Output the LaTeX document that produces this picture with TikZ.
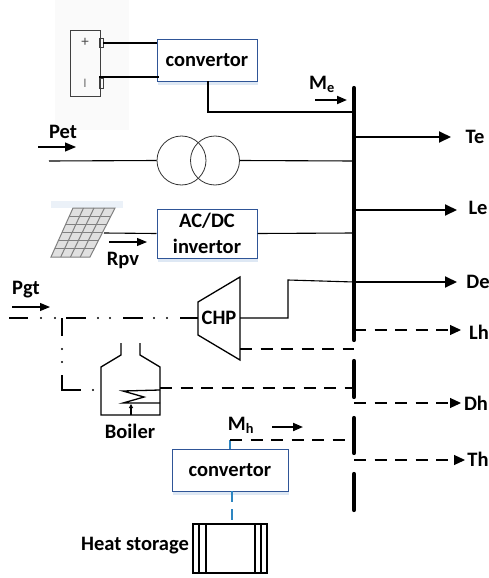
\documentclass[tikz,border=0pt]{standalone}
\usepackage{fontspec}
\setmainfont{Carlito}
\usetikzlibrary{arrows.meta}
\definecolor{boxblue}{HTML}{2F5597}
\definecolor{shadowblue}{HTML}{DEE8F4}
\definecolor{wireblue}{HTML}{2E86C1}
\tikzset{
  x=1pt,y=-1pt,
  wire/.style={draw=black,line width=1.1pt},
  thickwire/.style={draw=black,line width=1.9pt},
  busbar/.style={draw=black,line width=4.2pt,line cap=round},
  heatdash/.style={draw=black,line width=1.1pt,dash pattern=on 12pt off 8.5pt},
  tipbig/.style={-{Triangle[length=12pt,width=11pt]}},
  tipmid/.style={-{Triangle[length=11pt,width=10pt]}},
  boxnode/.style={draw=boxblue,line width=1pt,fill=white,inner sep=0pt,align=center},
  lbl/.style={font=\fontsize{20.5}{22}\selectfont\bfseries,inner sep=0pt},
}
\begin{document}
\begin{tikzpicture}
\useasboundingbox (0,0) rectangle (489,578);
% pale image backgrounds
\fill[black!2] (55,0) rectangle (129,130);
\fill[shadowblue!60] (51,201) rectangle (123,208);
% battery
\node[draw=black!75,line width=.9pt,minimum width=30pt,minimum height=66pt,inner sep=0pt] (bat) at (85,63) {};
\node[font=\fontsize{15}{15}\selectfont,text=black!70,inner sep=0pt] (plus) at (85,42) {+};
\node[font=\fontsize{13}{13}\selectfont,text=black!55,inner sep=0pt] (minus) at (85,83) {I};
\node[draw=black!75,line width=.7pt,minimum width=3.5pt,minimum height=9pt,inner sep=0pt] (tp) at (101.5,43) {};
\node[draw=black!75,line width=.7pt,minimum width=3.5pt,minimum height=10pt,inner sep=0pt] (tm) at (101.5,83) {};
% convertor boxes with shadow
\fill[shadowblue] (158,81) rectangle (258,85);
\fill[shadowblue] (158,258) rectangle (258,262);
\fill[shadowblue] (173,491) rectangle (289,495);
\node[boxnode,minimum width=100pt,minimum height=41pt,lbl] (conv1) at (207,60.5) {convertor};
\node[boxnode,minimum width=100pt,minimum height=49pt,font=\fontsize{20.5}{26}\selectfont\bfseries] (acdc) at (207,233.5) {AC/DC\\invertor};
\node[boxnode,minimum width=116pt,minimum height=42pt,lbl] (conv2) at (230,470) {convertor};
% connectors
\draw[wire] (103,43) -- (conv1.west |- 0,43);
\draw[wire] (tm.west |- 0,77) -- (159,77);
\draw[wire] (208,81) |- (354,112);
% bus
\coordinate (b1t) at (354,88);
\coordinate (b1b) at (354,340);
\draw[busbar] (b1t) -- (b1b);
\draw[busbar] (354,361) -- (354,397);
\draw[busbar] (354,418) -- (354,453);
\draw[busbar] (354,474) -- (354,510);
% transformer
\node[draw=black!80,circle,line width=.8pt,minimum size=49pt,inner sep=0pt] (t1) at (181.5,160.5) {};
\node[draw=black!80,circle,line width=.8pt,minimum size=49pt,inner sep=0pt] (t2) at (215,160.5) {};
\draw[wire] (49,161) -- (t1.west);
\draw[wire] (t2.east) -- (354,161);
% Pet
\node[lbl] (pet) at (63,132) {Pet};
\draw[wire,-{Triangle[length=11pt,width=9pt]}] (38,147) -- (76,147);
% PV panel
\fill[black!12] (73,208) -- (115,208) -- (90,257) -- (51,257) -- cycle;
\draw[black!50,line width=1pt] (73,208) -- (115,208) -- (90,257) -- (51,257) -- cycle;
\foreach \t in {0.25,0.5,0.75}
  \draw[black!50,line width=1pt] ({73+42*\t},208) -- ({51+39*\t},257);
\foreach \t in {0.167,0.333,0.5,0.667,0.833}
  \draw[black!50,line width=1pt] ({73-22*\t},{208+49*\t}) -- ({115-25*\t},{208+49*\t});
\draw[wire] (104,233) -- (acdc.west);
\draw[wire] (acdc.east) -- (354,233);
\draw[wire,-{Triangle[length=10pt,width=8pt]}] (109,242) -- (147,242);
\node[lbl] (rpv) at (123,260) {Rpv};
% Pgt
\node[lbl] (pgt) at (26,290) {Pgt};
\draw[wire,-{Triangle[length=10pt,width=8pt]}] (12,307) -- (50,307);
% CHP
\draw[wire,line width=1.3pt] (198,302) -- (240,277) -- (240,360) -- (198,335) -- cycle;
\node[lbl] (chp) at (219,318) {CHP};
% gas dash-dot-dot
\foreach \a/\b in {9/28,66/86,123/143,180/198}
  \draw[thickwire] (\a,318) -- (\b,318);
\foreach \a in {41,55,98,110,154,167}
  \fill (\a,318) circle (1.1);
\draw[thickwire] (62,318) -- (62,336);
\fill (62,349) circle (1.1);
\fill (62,362) circle (1.1);
\draw[thickwire] (62,375) -- (62,390) -- (81,390);
\fill (93,390) circle (1.1);
% CHP outputs
\draw[wire] (240,318) -- (288,318) -- (288,280) -- (354,282);
\draw[heatdash] (240,349) -- (354,349);
% boiler
\draw[wire,line width=1.3pt] (121,343) -- (121,355) -- (101,367) -- (101,415) -- (160,415) -- (160,367) -- (140,355) -- (140,343);
\draw[wire,line width=1.3pt] (160,390) -- (123,391) -- (144,397) -- (123,403) -- (160,403);
\draw[wire,-{Triangle[length=4pt,width=4pt]}] (131,415) -- (131,404);
\node[lbl] (boiler) at (130,431) {Boiler};
\draw[heatdash] (160,388) -- (354,388);
% output arrows
\draw[thickwire,tipbig] (354,137) -- (451,137);
\draw[thickwire,tipbig] (354,210) -- (457,210);
\draw[thickwire,tipbig] (354,282) -- (457,282);
\node[lbl] (te) at (475,137) {Te};
\node[lbl] (le) at (478,208) {Le};
\node[lbl] (de) at (478,282) {De};
\draw[heatdash,tipmid] (354,330) -- (461,330);
\draw[heatdash,tipmid] (354,403) -- (461,403);
\draw[heatdash,tipmid] (354,460) -- (465,460);
\node[lbl] (lh) at (479,332) {Lh};
\node[lbl] (dh) at (476,403) {Dh};
\node[lbl] (th) at (478,459) {Th};
% Me, Mh
\node[lbl] (me) at (322,84) {M\textsubscript{e}};
\draw[thickwire,-{Triangle[length=10pt,width=8pt]}] (315,100) -- (347,100);
\node[lbl] (mh) at (241,425) {M\textsubscript{h}};
\draw[thickwire,-{Triangle[length=10pt,width=8pt]}] (272,427) -- (303,427);
% heat storage link
\draw[draw=wireblue,line width=1.1pt] (230,449) -- (230,440);
\draw[heatdash] (230,440) -- (345,440);
\node[draw=black,line width=1.3pt,minimum width=74pt,minimum height=49pt,inner sep=0pt] (hs) at (230,548.5) {};
\foreach \a in {199,206,255,261}
  \draw[black,line width=1.3pt] (\a,524) -- (\a,573);
\draw[draw=wireblue,line width=1.1pt,dash pattern=on 11pt off 7pt] (232,491) -- (232,524);
\node[lbl,anchor=east] (hst) at (189,546) {Heat storage};
\end{tikzpicture}
\end{document}
